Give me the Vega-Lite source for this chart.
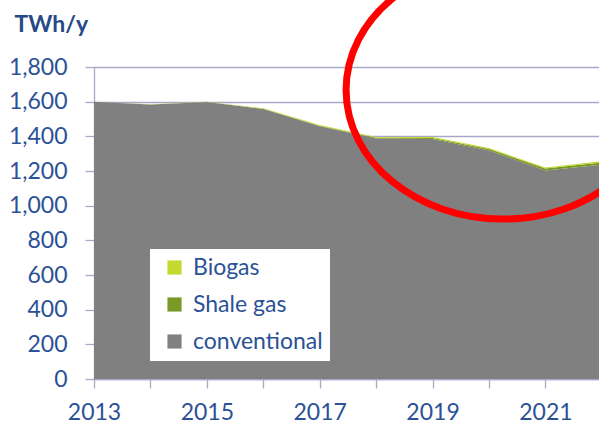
{
  "$schema": "https://vega.github.io/schema/vega-lite/v6.json",
  "width": 505,
  "height": 312,
  "autosize": {"type": "none"},
  "padding": {"left": 94, "top": 67, "right": 0, "bottom": 45},
  "background": "white",
  "config": {"view": {"stroke": null}, "font": "Lato"},
  "encoding": {
    "x": {"field": "year", "type": "quantitative",
      "scale": {"domain": [2013, 2021.95], "nice": false, "zero": false},
      "axis": {"values": [2013, 2014, 2015, 2016, 2017, 2018, 2019, 2020, 2021],
        "labelExpr": "datum.value % 2 == 1 ? datum.value : ''",
        "grid": false, "title": null, "tickSize": 9, "labelPadding": 13,
        "tickColor": "#a6a9c8", "domainColor": "#a6a9c8", "domainWidth": 1.3, "tickWidth": 1.3,
        "labelFont": "Lato", "labelFontSize": 23, "labelColor": "#2b5196",
        "labelFlush": false, "labelOverlap": false}},
    "y": {"field": "value", "type": "quantitative", "stack": "zero",
      "scale": {"domain": [0, 1800], "nice": false},
      "axis": {"values": [0, 200, 400, 600, 800, 1000, 1200, 1400, 1600, 1800], "format": ",d",
        "grid": true, "gridColor": "#a6a9c8", "gridWidth": 1.3,
        "title": "TWh/y", "titleAngle": 0, "titleX": -80, "titleY": -54, "titleAlign": "left",
        "titleBaseline": "top", "titleFont": "Lato", "titleFontSize": 23, "titleFontWeight": "bold",
        "titleColor": "#264a87",
        "tickSize": 9, "labelPadding": 18, "tickColor": "#a6a9c8", "domainColor": "#a6a9c8",
        "domainWidth": 1.3, "tickWidth": 1.3, "labelOverlap": false,
        "labelFont": "Lato", "labelFontSize": 23, "labelColor": "#2b5196"}}
  },
  "layer": [
    {
      "data": {"values": [
        {"year": 2013, "series": "conventional", "value": 1599},
        {"year": 2014, "series": "conventional", "value": 1584},
        {"year": 2015, "series": "conventional", "value": 1598},
        {"year": 2016, "series": "conventional", "value": 1558},
        {"year": 2017, "series": "conventional", "value": 1458},
        {"year": 2018, "series": "conventional", "value": 1387},
        {"year": 2019, "series": "conventional", "value": 1384},
        {"year": 2020, "series": "conventional", "value": 1318},
        {"year": 2021, "series": "conventional", "value": 1203},
        {"year": 2022, "series": "conventional", "value": 1237},
        {"year": 2013, "series": "Shale gas", "value": 0},
        {"year": 2014, "series": "Shale gas", "value": 0},
        {"year": 2015, "series": "Shale gas", "value": 0},
        {"year": 2016, "series": "Shale gas", "value": 1},
        {"year": 2017, "series": "Shale gas", "value": 3},
        {"year": 2018, "series": "Shale gas", "value": 5},
        {"year": 2019, "series": "Shale gas", "value": 7},
        {"year": 2020, "series": "Shale gas", "value": 9},
        {"year": 2021, "series": "Shale gas", "value": 11},
        {"year": 2022, "series": "Shale gas", "value": 13},
        {"year": 2013, "series": "Biogas", "value": 1},
        {"year": 2014, "series": "Biogas", "value": 1},
        {"year": 2015, "series": "Biogas", "value": 2},
        {"year": 2016, "series": "Biogas", "value": 3},
        {"year": 2017, "series": "Biogas", "value": 4},
        {"year": 2018, "series": "Biogas", "value": 4},
        {"year": 2019, "series": "Biogas", "value": 5},
        {"year": 2020, "series": "Biogas", "value": 5},
        {"year": 2021, "series": "Biogas", "value": 6},
        {"year": 2022, "series": "Biogas", "value": 6}
      ]},
      "mark": {"type": "area", "clip": true, "interpolate": "linear"},
      "encoding": {
        "color": {"field": "series", "type": "nominal",
          "scale": {"domain": ["Biogas", "Shale gas", "conventional"], "range": ["#c4d82e", "#7a9a28", "#808080"]},
          "legend": {"orient": "none", "legendX": 56, "legendY": 182, "fillColor": "white", "padding": 7,
            "symbolType": "square", "symbolSize": 200, "symbolOffset": 6, "symbolStrokeWidth": 0,
            "labelFont": "Lato", "labelFontSize": 23, "labelColor": "#2b5196", "labelOffset": 7,
            "rowPadding": 13, "title": null}},
        "order": {"field": "series", "sort": "descending"}
      }
    },
    {
      "data": {"values": [{"year": 2020.25, "value": 1667}]},
      "mark": {"type": "point", "shape": "M -1 0 A 1 0.822 0 1 0 1 0 A 1 0.822 0 1 0 -1 0 Z", "size": 98596,
        "filled": false, "color": "#ff0000", "stroke": "#ff0000", "strokeWidth": 7, "opacity": 1}
    }
  ]
}
